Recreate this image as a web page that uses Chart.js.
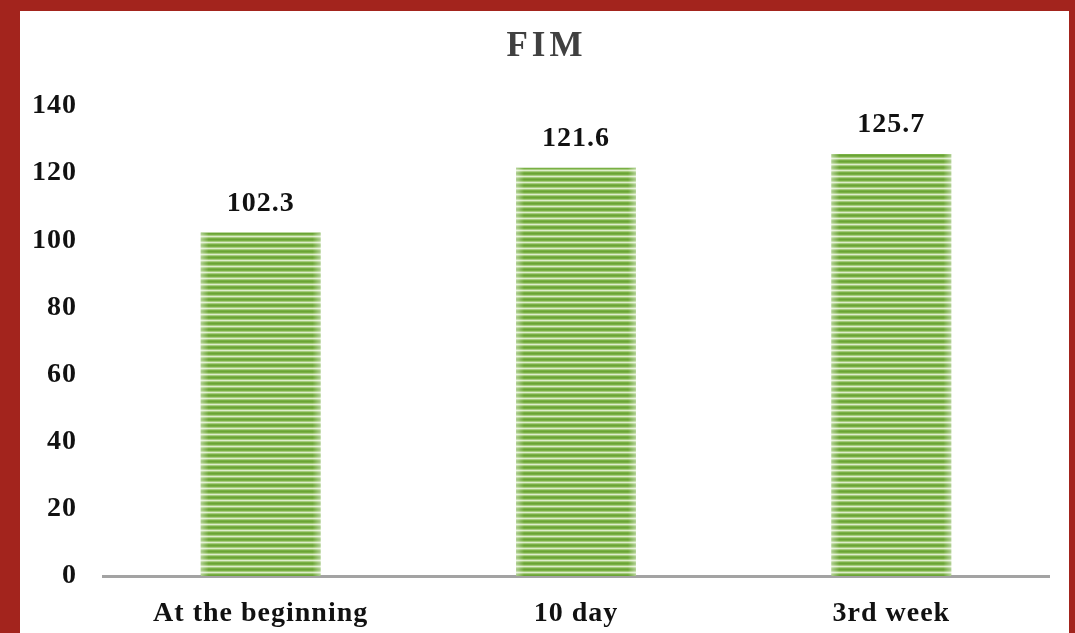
<!DOCTYPE html>
<html>
<head>
<meta charset="utf-8">
<script src="https://cdn.jsdelivr.net/npm/chart.js@4.4.0/dist/chart.umd.min.js"></script>
<style>
  html, body { margin: 0; padding: 0; }
  body { width: 1075px; height: 633px; background: #a3241d; position: relative; overflow: hidden; }
  #wrap { position: absolute; left: 20px; top: 11px; width: 1049px; height: 622px; background: #fff; }
</style>
</head>
<body>
<div id="wrap"><canvas id="c"></canvas></div>
<script>
// FIM scores over time
const categories = ['At the beginning', '10 day', '3rd week'];
const fimValues = [102.3, 121.6, 125.7];
const yTicks = [0, 20, 40, 60, 80, 100, 120, 140];
const chartTitle = 'FIM';

// horizontal green stripes like the original bar fill
function stripePattern() {
    const c = document.createElement('canvas');
    c.width = 8; c.height = 6;
    const g = c.getContext('2d');
    const rows = ['#6aa335', '#78b043', '#a6cb7e', '#dcedc9', '#a6cb7e', '#78b043'];
    rows.forEach((col, i) => { g.fillStyle = col; g.fillRect(0, i, 8, 1); });
    return g.createPattern(c, 'repeat');
}

const serif = '"Liberation Serif", "Times New Roman", serif';

// slight letter spacing on all text, title drawn centred on the white panel
const textStyle = {
    id: 'textStyle',
    beforeDraw(chart) {
        chart.ctx.letterSpacing = '1px';
    },
    afterDraw(chart) {
        const ctx = chart.ctx;
        ctx.save();
        ctx.letterSpacing = '4px';
        ctx.font = 'bold 35px ' + serif;
        ctx.fillStyle = '#404040';
        ctx.textAlign = 'center';
        ctx.textBaseline = 'middle';
        ctx.fillText(chartTitle, chart.width / 2 + 2, 36);
        ctx.restore();
    }
};

// value above each bar, plus soft light edges on the bars
const valueLabels = {
    id: 'valueLabels',
    afterDatasetsDraw(chart) {
        const ctx = chart.ctx;
        const meta = chart.getDatasetMeta(0);
        ctx.save();
        meta.data.forEach(bar => {
            const half = bar.width / 2;
            const h = bar.base - bar.y;
            let gl = ctx.createLinearGradient(bar.x - half, 0, bar.x - half + 8, 0);
            gl.addColorStop(0, 'rgba(255,255,255,0.45)');
            gl.addColorStop(1, 'rgba(255,255,255,0)');
            ctx.fillStyle = gl;
            ctx.fillRect(bar.x - half, bar.y, 8, h);
            let gr = ctx.createLinearGradient(bar.x + half, 0, bar.x + half - 8, 0);
            gr.addColorStop(0, 'rgba(255,255,255,0.45)');
            gr.addColorStop(1, 'rgba(255,255,255,0)');
            ctx.fillStyle = gr;
            ctx.fillRect(bar.x + half - 8, bar.y, 8, h);
        });
        ctx.font = 'bold 28px ' + serif;
        ctx.fillStyle = '#111';
        ctx.textAlign = 'center';
        ctx.textBaseline = 'bottom';
        meta.data.forEach((bar, i) => {
            ctx.fillText(fimValues[i].toFixed(1), bar.x, bar.y - 15);
        });
        ctx.restore();
    }
};

new Chart(document.getElementById('c'), {
    type: 'bar',
    data: {
        labels: categories,
        datasets: [{
            label: 'FIM',
            data: fimValues,
            backgroundColor: stripePattern(),
            categoryPercentage: 1,
            barPercentage: 0.38
        }]
    },
    options: {
        responsive: true,
        maintainAspectRatio: false,
        animation: false,
        layout: { padding: { left: 0, right: 20, top: 95, bottom: 0 } },
        plugins: {
            legend: { display: false },
            tooltip: { enabled: false },
            title: { display: false }
        },
        scales: {
            x: {
                grid: { display: false, drawTicks: false },
                border: { color: '#a3a3a3', width: 3 },
                ticks: {
                    color: '#111',
                    font: { family: serif, size: 28, weight: 'bold' },
                    padding: 21
                },
                afterFit(s) { s.height = 57; }
            },
            y: {
                min: 0,
                max: 140,
                grid: { display: false, drawTicks: false },
                border: { display: false },
                afterBuildTicks(s) { s.ticks = yTicks.map(v => ({ value: v })); },
                ticks: {
                    color: '#111',
                    font: { family: serif, size: 28, weight: 'bold' },
                    padding: 26
                },
                afterFit(s) { s.width = 83; }
            }
        }
    },
    plugins: [textStyle, valueLabels]
});
</script>
</body>
</html>
